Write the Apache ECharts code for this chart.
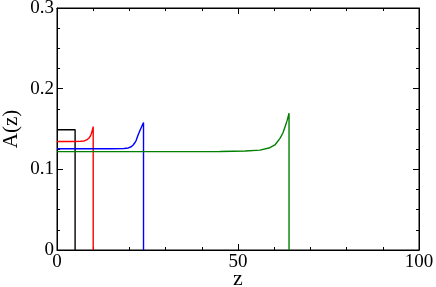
<!DOCTYPE html>
<html>
<head>
<meta charset="utf-8">
<script src="https://cdn.jsdelivr.net/npm/echarts@6/dist/echarts.min.js"></script>
<style>
  html, body { margin: 0; padding: 0; background: #fff; }
  #chart { width: 436px; height: 287px; }
</style>
</head>
<body>
<div id="chart"></div>
<script>
// tick labels
const xTicks = [0, 50, 100];
const yTicks = [0, 0.1, 0.2, 0.3];

// curves A(z)
const blackLine = [[0, 0.149], [5.0, 0.149], [5.0, 0]];
const redLine = [[0, 0.1345], [4, 0.1345], [6.5, 0.1348], [7.5, 0.1352], [8.2, 0.1365],
  [8.8, 0.1385], [9.2, 0.141], [9.5, 0.1445], [9.8, 0.149], [10.0, 0.153], [10.0, 0]];
const blueLine = [[0, 0.1255], [15, 0.1255], [18.5, 0.1258], [19.7, 0.1265], [20.5, 0.128],
  [21.1, 0.1305], [21.8, 0.135], [22.4, 0.1425], [23.0, 0.149], [23.5, 0.154], [23.9, 0.158], [23.9, 0]];
const greenLine = [[0, 0.122], [45, 0.1222], [52, 0.1228], [56.1, 0.1238], [58.8, 0.1268],
  [60.2, 0.1302], [61.6, 0.1384], [62.4, 0.145], [63.0, 0.1528], [63.6, 0.161], [64.1, 0.1695], [64.1, 0]];

const chart = echarts.init(document.getElementById('chart'));

const serif = 'Liberation Serif';
const tick = { show: true, inside: true, length: 6, lineStyle: { color: '#000', width: 1 } };
const minorTickX = { show: true, splitNumber: 5, length: 3, lineStyle: { color: '#000', width: 1 } };
const minorTickY = { show: true, splitNumber: 4, length: 3, lineStyle: { color: '#000', width: 1 } };
const blackLineStyle = { show: true, onZero: false, lineStyle: { color: '#000', width: 1 } };

function makeLine(data, color) {
  return {
    type: 'line',
    data: data,
    showSymbol: false,
    lineStyle: { color: color, width: 1.4 },
    itemStyle: { color: color }
  };
}

chart.setOption({
  animation: false,
  grid: {
    left: 57, right: 17, top: 8, bottom: 37,
    outerBoundsMode: 'none', containLabel: false,
    show: true, borderColor: '#000', borderWidth: 1, backgroundColor: 'transparent'
  },
  xAxis: [
    {
      type: 'value', min: xTicks[0], max: xTicks[xTicks.length - 1], interval: 50,
      name: 'z', nameLocation: 'middle', nameGap: 18, nameMoveOverlap: false,
      nameTextStyle: { fontFamily: serif, fontSize: 22, color: '#000' },
      axisLine: blackLineStyle,
      axisTick: tick,
      minorTick: minorTickX,
      axisLabel: { fontFamily: serif, fontSize: 19, color: '#000', margin: 3 },
      splitLine: { show: false }
    },
    {
      type: 'value', position: 'top', min: 0, max: 100, interval: 50,
      axisLine: blackLineStyle,
      axisTick: tick,
      minorTick: minorTickX,
      axisLabel: { show: false },
      splitLine: { show: false }
    }
  ],
  yAxis: [
    {
      type: 'value', min: yTicks[0], max: yTicks[yTicks.length - 1], interval: 0.1,
      name: 'A(z)', nameLocation: 'middle', nameGap: 35, nameRotate: 90, nameMoveOverlap: false,
      nameTextStyle: { fontFamily: serif, fontSize: 21, color: '#000' },
      axisLine: blackLineStyle,
      axisTick: tick,
      minorTick: minorTickY,
      axisLabel: { fontFamily: serif, fontSize: 19, color: '#000', margin: 3,
        formatter: v => (v === 0 ? '0' : v.toFixed(1)) },
      splitLine: { show: false }
    },
    {
      type: 'value', position: 'right', min: 0, max: 0.3, interval: 0.1,
      axisLine: blackLineStyle,
      axisTick: tick,
      minorTick: minorTickY,
      axisLabel: { show: false },
      splitLine: { show: false }
    }
  ],
  series: [
    makeLine(blackLine, '#000000'),
    makeLine(redLine, '#ff0000'),
    makeLine(blueLine, '#0000ff'),
    makeLine(greenLine, '#008000')
  ]
});
</script>
</body>
</html>
